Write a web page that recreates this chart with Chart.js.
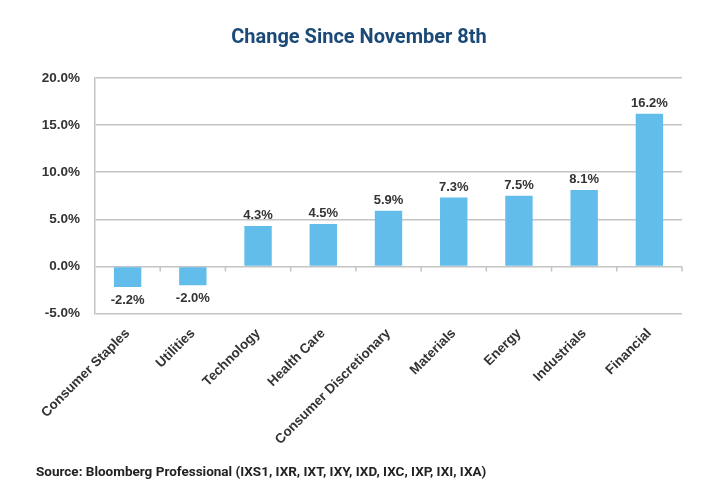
<!DOCTYPE html>
<html>
<head>
<meta charset="utf-8">
<script src="https://cdn.jsdelivr.net/npm/chart.js@4"></script>
<style>
  html, body { margin: 0; padding: 0; background: #fff; }
  #wrap { width: 720px; height: 500px; }
</style>
</head>
<body>
<div id="wrap"><canvas id="chart"></canvas></div>
<script>
// data
const sectors = ['Consumer Staples', 'Utilities', 'Technology', 'Health Care',
  'Consumer Discretionary', 'Materials', 'Energy', 'Industrials', 'Financial'];
const changePct = [-2.2, -2.0, 4.3, 4.5, 5.9, 7.3, 7.5, 8.1, 16.2];
const yTicks = [-5, 0, 5, 10, 15, 20];

const labelFont = { family: 'Liberation Sans, Arial, sans-serif', size: 13.5, weight: 'bold' };
const headFont = 'Roboto, Liberation Sans, sans-serif';
const gridColor = '#c4c4c4';

// value labels above / below each bar
const valueLabels = {
  id: 'valueLabels',
  afterDatasetsDraw(chart) {
    const ctx = chart.ctx;
    const meta = chart.getDatasetMeta(0);
    ctx.save();
    ctx.font = 'bold 13px Liberation Sans, Arial, sans-serif';
    ctx.fillStyle = '#333';
    ctx.textAlign = 'center';
    meta.data.forEach((bar, i) => {
      const v = changePct[i];
      if (v >= 0) {
        ctx.textBaseline = 'bottom';
        ctx.fillText(v.toFixed(1) + '%', bar.x, bar.y - 4);
      } else {
        ctx.textBaseline = 'top';
        ctx.fillText(v.toFixed(1) + '%', bar.x, bar.y + 7);
      }
    });
    ctx.restore();
  }
};

// small category ticks hanging from the zero line
const zeroTicks = {
  id: 'zeroTicks',
  beforeDatasetsDraw(chart) {
    const { ctx, scales: { x, y } } = chart;
    const y0 = y.getPixelForValue(0);
    const step = x.width / sectors.length;
    ctx.save();
    ctx.strokeStyle = gridColor;
    ctx.lineWidth = 1.5;
    ctx.beginPath();
    for (let i = 1; i <= sectors.length; i++) {
      const px = x.left + i * step;
      ctx.moveTo(px, y0);
      ctx.lineTo(px, y0 + 5);
    }
    ctx.stroke();
    ctx.restore();
  }
};

const ctx = document.getElementById('chart').getContext('2d');
new Chart(ctx, {
  type: 'bar',
  data: {
    labels: sectors,
    datasets: [{
      data: changePct,
      backgroundColor: '#63bdeb',
      barPercentage: 0.42,
      categoryPercentage: 1
    }]
  },
  options: {
    responsive: true,
    maintainAspectRatio: false,
    animation: false,
    layout: { padding: { left: 36, right: 38, top: 0, bottom: 0 } },
    plugins: {
      legend: { display: false },
      tooltip: { enabled: false },
      title: {
        display: true,
        text: 'Change Since November 8th',
        color: '#1b4a78',
        font: { family: headFont, size: 20, weight: 'bold' },
        padding: { top: 26, bottom: 28 }
      },
      subtitle: {
        display: true,
        position: 'bottom',
        align: 'start',
        text: 'Source: Bloomberg Professional (IXS1, IXR, IXT, IXY, IXD, IXC, IXP, IXI, IXA)',
        color: '#222',
        font: { family: headFont, size: 13.5, weight: 'bold' },
        padding: { top: 13, bottom: 19 }
      }
    },
    scales: {
      x: {
        grid: { display: false },
        border: { display: false },
        ticks: {
          color: '#333',
          font: labelFont,
          maxRotation: 45,
          minRotation: 45,
          padding: 4
        }
      },
      y: {
        min: -5,
        max: 20,
        afterBuildTicks(scale) {
          scale.ticks = yTicks.map(v => ({ value: v }));
        },
        afterFit(scale) {
          scale.width = 59;
        },
        grid: { color: gridColor, lineWidth: 1.5, drawTicks: false },
        border: { display: true, color: gridColor, width: 1.5 },
        ticks: {
          color: '#333',
          font: labelFont,
          padding: 15,
          callback: v => v.toFixed(1) + '%'
        }
      }
    }
  },
  plugins: [valueLabels, zeroTicks]
});
</script>
</body>
</html>
